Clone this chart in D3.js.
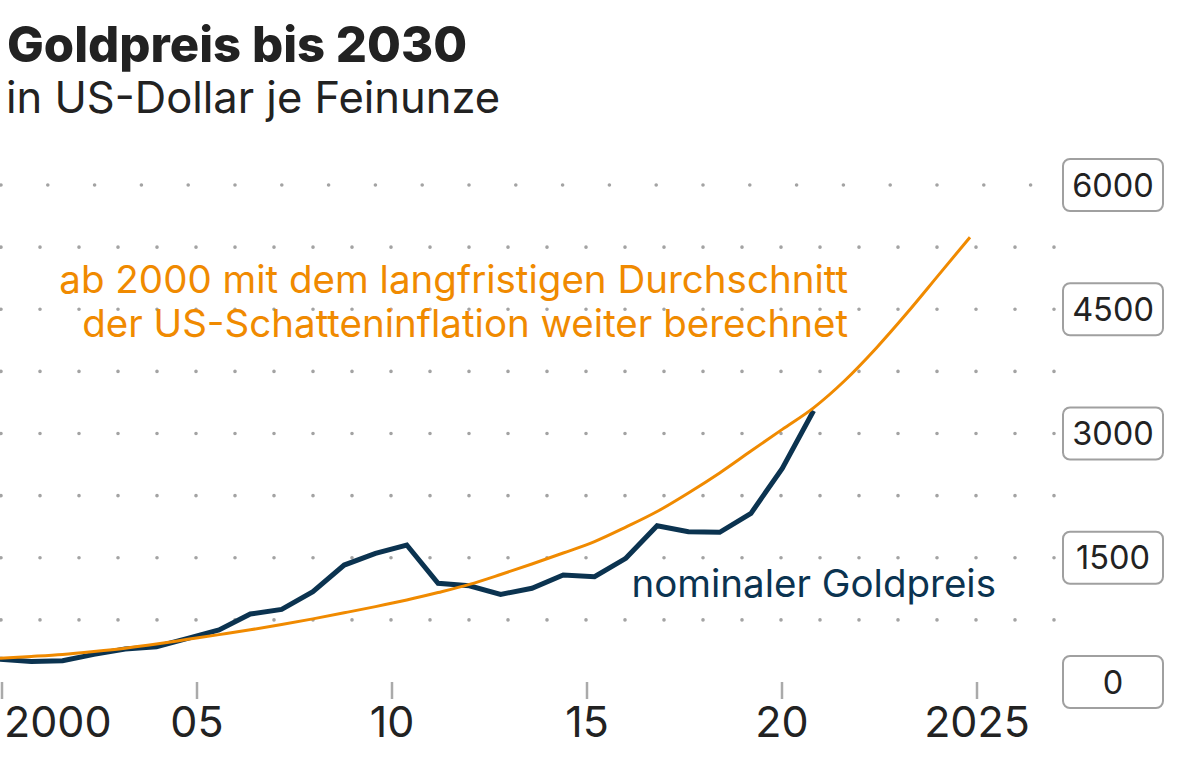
<!DOCTYPE html>
<html>
<head>
<meta charset="utf-8">
<script src="https://cdn.jsdelivr.net/npm/d3@7/dist/d3.min.js"></script>
<style>
  html, body { margin: 0; padding: 0; background: #fff; }
  svg { display: block; font-family: Inter, "Noto Sans", sans-serif; }
</style>
</head>
<body>
<svg id="chart" width="1200" height="765"></svg>
<script>
// ---- data ----
const goldYears = d3.range(1999, 2026);          // 1999 … 2025
const goldValues = [274, 247, 257, 334, 398, 426, 527, 628, 821, 877, 1090, 1412, 1553, 1654,
                    1191, 1162, 1058, 1131, 1291, 1271, 1493, 1887, 1814, 1807, 2036, 2579, 3275];
const inflYears = d3.range(1999, 2031);          // 1999 … 2030
const inflValues = [286, 308, 333, 368, 408, 458, 515, 572, 630, 693, 762, 835, 910, 990,
                    1080, 1178, 1298, 1425, 1557, 1695, 1870, 2058, 2282, 2524, 2788, 3050,
                    3310, 3640, 4030, 4460, 4915, 5370];
const xTickValues = [2000, 2005, 2010, 2015, 2020, 2025];
const xTickLabels = ["2000", "05", "10", "15", "20", "2025"];
const yTickValues = [0, 1500, 3000, 4500, 6000];
const yGridValues = [750, 1500, 2250, 3000, 3750, 4500, 5250, 6000];

const title = "Goldpreis bis 2030";
const subtitle = "in US-Dollar je Feinunze";
const annoInfl = ["ab 2000 mit dem langfristigen Durchschnitt", "der US-Schatteninflation weiter berechnet"];
const annoGold = "nominaler Goldpreis";

// ---- styles ----
const C_GOLD = "#0b3350", C_INFL = "#f08a00", C_TEXT = "#222222", C_GRID = "#a3a3a3";

const svg = d3.select("#chart");

// scales
const y = d3.scaleLinear().domain([0, 6000]).range([682, 185]);
const xData = d3.scaleLinear().domain([1999, 2030]).range([0, 970]);
const xAxis = d3.scaleLinear().domain([2000, 2025]).range([2, 977]);

// title
svg.append("text").attr("x", 7).attr("y", 62)
  .attr("font-size", 49).attr("font-weight", 800).attr("fill", C_TEXT).text(title);
svg.append("text").attr("x", 6).attr("y", 113)
  .attr("font-size", 43.5).attr("font-weight", 400).attr("fill", C_TEXT).text(subtitle);

// dotted grid
const grid = svg.append("g");
grid.selectAll("line").data(yGridValues).join("line")
  .attr("x1", 1)
  .attr("x2", d => d === 6000 ? 1032 : 1056)
  .attr("y1", d => y(d)).attr("y2", d => y(d))
  .attr("stroke", C_GRID).attr("stroke-width", 3.6)
  .attr("stroke-linecap", "round")
  .attr("stroke-dasharray", d => d === 6000 ? "0 46.8" : "0 39");

// x ticks
const xg = svg.append("g");
xg.selectAll("line").data(xTickValues).join("line")
  .attr("x1", d => xAxis(d)).attr("x2", d => xAxis(d))
  .attr("y1", 682).attr("y2", 699)
  .attr("stroke", "#aaaaaa").attr("stroke-width", 2.5);
xg.selectAll("text").data(xTickValues).join("text")
  .attr("x", (d, i) => i === 0 ? xAxis(d) + 2 : xAxis(d))
  .attr("y", 737)
  .attr("text-anchor", (d, i) => i === 0 ? "start" : "middle")
  .attr("font-size", 43).attr("fill", C_TEXT)
  .text((d, i) => xTickLabels[i]);

// y labels in boxes
const yg = svg.append("g");
const yl = yg.selectAll("g").data(yTickValues).join("g")
  .attr("transform", d => `translate(1113,${y(d)})`);
yl.append("rect").attr("x", -50).attr("y", -26).attr("width", 100).attr("height", 52)
  .attr("rx", 7).attr("fill", "#fff").attr("stroke", "#a0a0a0").attr("stroke-width", 2);
yl.append("text").attr("text-anchor", "middle").attr("dy", "0.36em")
  .attr("font-size", 32.5).attr("fill", C_TEXT).text(d => d);

// lines
const goldData = goldYears.map((yr, i) => ({ yr, v: goldValues[i] }));
const inflData = inflYears.map((yr, i) => ({ yr, v: inflValues[i] }));

svg.append("path").datum(goldData)
  .attr("fill", "none").attr("stroke", C_GOLD).attr("stroke-width", 5)
  .attr("stroke-linejoin", "miter")
  .attr("d", d3.line().x(d => xData(d.yr)).y(d => y(d.v)));

svg.append("path").datum(inflData)
  .attr("fill", "none").attr("stroke", C_INFL).attr("stroke-width", 3)
  .attr("d", d3.line().curve(d3.curveMonotoneX).x(d => xData(d.yr)).y(d => y(d.v)));

// annotations
svg.append("g").selectAll("text").data(annoInfl).join("text")
  .attr("x", 848).attr("y", (d, i) => 293 + i * 44)
  .attr("text-anchor", "end").attr("font-size", 38.5).attr("fill", C_INFL).text(d => d);

svg.append("text").attr("x", 996).attr("y", 597).attr("text-anchor", "end")
  .attr("font-size", 38.5).attr("fill", C_GOLD).text(annoGold);
</script>
</body>
</html>
